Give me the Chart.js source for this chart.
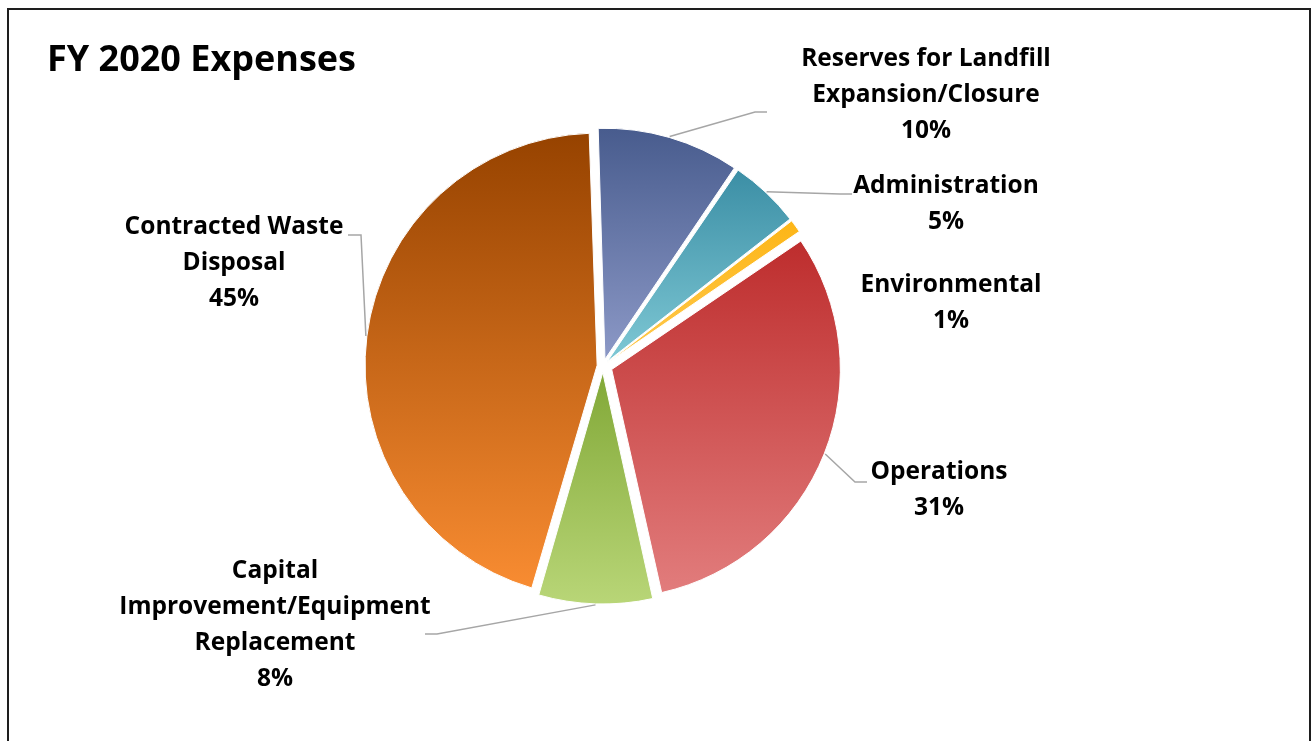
<!DOCTYPE html>
<html>
<head>
<meta charset="utf-8">
<title>FY 2020 Expenses</title>
<script src="https://cdn.jsdelivr.net/npm/chart.js@4/dist/chart.umd.min.js"></script>
<style>
  html, body { margin: 0; padding: 0; background: #fff; }
</style>
</head>
<body>
<canvas id="expenses-pie" width="1312" height="741"></canvas>
<script>
// Expense categories, clockwise from 12 o'clock
const categories = [
    "Reserves for Landfill Expansion/Closure",
    "Administration",
    "Environmental",
    "Operations",
    "Capital Improvement/Equipment Replacement",
    "Contracted Waste Disposal"
];
const shares = [10, 5, 1, 31, 8, 45];

// how each category name is broken over lines in its label
const labelLines = [
    ["Reserves for Landfill", "Expansion/Closure"],
    ["Administration"],
    ["Environmental"],
    ["Operations"],
    ["Capital", "Improvement/Equipment", "Replacement"],
    ["Contracted Waste", "Disposal"]
];

// vertical gradient per slice, top colour -> bottom colour
const topColors = ["#465a8c", "#3a8da4", "#fdb515", "#be2e2e", "#84aa3a", "#974300"];
const bottomColors = ["#8996c4", "#7cc6d3", "#ffc94d", "#e27d7d", "#bad779", "#f78b31"];

// label placement: text centre x, first line y, leader end + elbow (null = no leader)
const labelLayout = [
    { x: 926, y: 59,  leader: [[767, 112], [755, 112]] },
    { x: 946, y: 186, leader: [[852, 194], [840, 194]] },
    { x: 951, y: 285, leader: null },
    { x: 939, y: 472, leader: [[867, 482], [855, 482]] },
    { x: 275, y: 571, leader: [[425, 634], [437, 634]] },
    { x: 234, y: 227, leader: [[348, 235], [361, 235]] }
];

const RADIUS = 228;
const ROTATION = -1.8;   // degrees
const EXPLODE = 10;      // px each slice is pulled out
const LINE_HEIGHT = 36;
const FONT = "'Open Sans', 'DejaVu Sans', sans-serif";

const total = shares.reduce((a, b) => a + b, 0);

// chart.js moves an arc by offset/4 * (1 + fix); invert that so every slice moves EXPLODE px
function fixFactor(circ) {
    return 1 - Math.sin(Math.min(Math.PI, circ));
}
function offsetFor(i) {
    const circ = shares[i] / total * 2 * Math.PI;
    return 4 * EXPLODE / (1 + fixFactor(circ));
}
function arcShift(circ, offset) {
    return offset / 4 * (1 + fixFactor(circ));
}

// top/bottom of the pulled-out slice i, used to span its gradient
function sliceSpan(chart, i) {
    const area = chart.chartArea;
    const cy = (area.top + area.bottom) / 2;
    let start = ROTATION * Math.PI / 180 - Math.PI / 2;
    for (let k = 0; k < i; k++) start += shares[k] / total * 2 * Math.PI;
    const end = start + shares[i] / total * 2 * Math.PI;
    const mid = (start + end) / 2;
    const oy = cy + Math.sin(mid) * arcShift(end - start, offsetFor(i));
    let top = oy, bottom = oy;
    [start, end].forEach(a => {
        const y = oy + Math.sin(a) * RADIUS;
        top = Math.min(top, y);
        bottom = Math.max(bottom, y);
    });
    for (let k = -1; k <= 2; k++) {
        const up = -Math.PI / 2 + k * 2 * Math.PI;
        const down = Math.PI / 2 + k * 2 * Math.PI;
        if (up > start && up < end) top = oy - RADIUS;
        if (down > start && down < end) bottom = oy + RADIUS;
    }
    return [top, bottom];
}

function sliceGradient(context) {
    const chart = context.chart;
    const i = context.dataIndex;
    if (!chart.chartArea) return topColors[i];
    const [top, bottom] = sliceSpan(chart, i);
    const g = chart.ctx.createLinearGradient(0, top, 0, bottom);
    g.addColorStop(0, topColors[i]);
    g.addColorStop(1, bottomColors[i]);
    return g;
}

const framePlugin = {
    id: 'frame',
    beforeDraw(chart) {
        const ctx = chart.ctx;
        ctx.save();
        ctx.fillStyle = '#fff';
        ctx.fillRect(0, 0, chart.width, chart.height);
        ctx.strokeStyle = '#1e1e1e';
        ctx.lineWidth = 2;
        ctx.strokeRect(8, 9, 1302, 760);
        ctx.fillStyle = '#000';
        ctx.font = "bold 36px " + FONT;
        ctx.textAlign = 'left';
        ctx.textBaseline = 'middle';
        ctx.fillText("FY 2020 Expenses", 47, 61);
        ctx.restore();
    }
};

const labelPlugin = {
    id: 'sliceLabels',
    afterDatasetsDraw(chart) {
        const ctx = chart.ctx;
        const meta = chart.getDatasetMeta(0);
        ctx.save();
        meta.data.forEach((arc, i) => {
            const lay = labelLayout[i];
            if (lay.leader) {
                const circ = arc.endAngle - arc.startAngle;
                const mid = (arc.startAngle + arc.endAngle) / 2;
                const r = arc.outerRadius + arcShift(circ, arc.options.offset) + 1;
                ctx.beginPath();
                ctx.moveTo(arc.x + Math.cos(mid) * r, arc.y + Math.sin(mid) * r);
                ctx.lineTo(lay.leader[1][0], lay.leader[1][1]);
                ctx.lineTo(lay.leader[0][0], lay.leader[0][1]);
                ctx.strokeStyle = '#a6a6a6';
                ctx.lineWidth = 1.5;
                ctx.stroke();
            }
            const lines = labelLines[i].concat([shares[i] + '%']);
            ctx.fillStyle = '#000';
            ctx.font = "bold 24.5px " + FONT;
            ctx.textAlign = 'center';
            ctx.textBaseline = 'middle';
            lines.forEach((t, k) => ctx.fillText(t, lay.x, lay.y + k * LINE_HEIGHT));
        });
        ctx.restore();
    }
};

new Chart(document.getElementById("expenses-pie"), {
    type: 'pie',
    data: {
        labels: categories,
        datasets: [{
            data: shares,
            backgroundColor: sliceGradient,
            borderColor: '#fff',
            borderWidth: 1,
            offset: (c) => offsetFor(c.dataIndex),
            hoverOffset: 0
        }]
    },
    options: {
        responsive: false,
        animation: false,
        devicePixelRatio: 1,
        radius: RADIUS,
        rotation: ROTATION,
        layout: { padding: { left: 0, right: 106, top: 0, bottom: 9 } },
        plugins: {
            legend: { display: false },
            tooltip: { enabled: false }
        }
    },
    plugins: [framePlugin, labelPlugin]
});
</script>
</body>
</html>
